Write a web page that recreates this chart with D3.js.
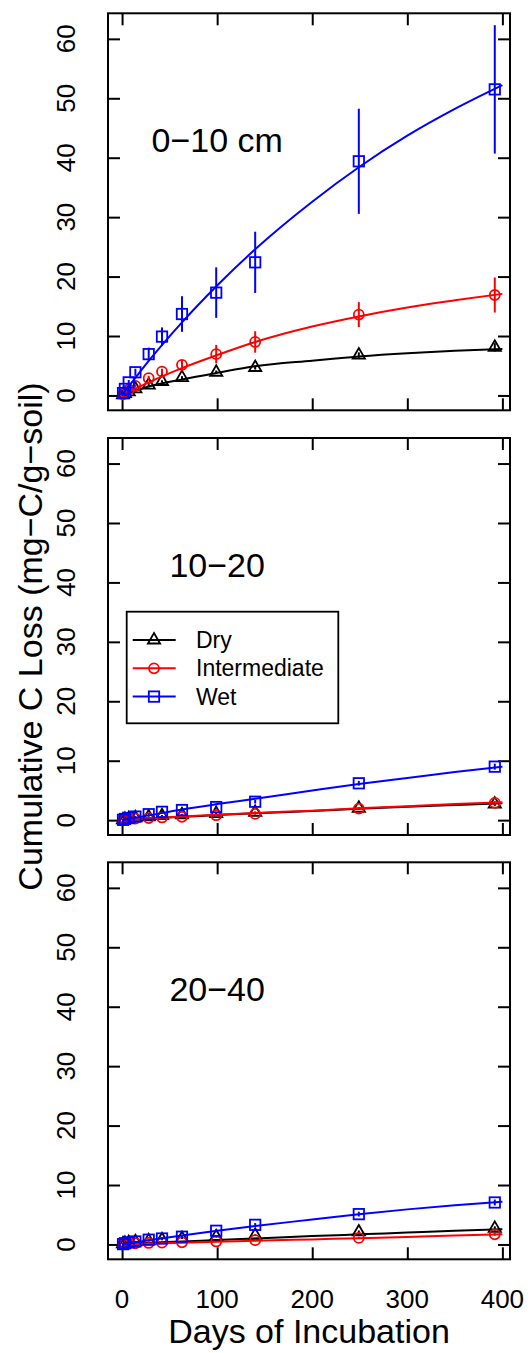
<!DOCTYPE html>
<html>
<head>
<meta charset="utf-8">
<script src="https://cdn.jsdelivr.net/npm/d3@7"></script>
<style>
  body { margin: 0; background: #fff; }
  svg { display: block; font-family: 'Liberation Sans', Arial, Helvetica, sans-serif; }
</style>
</head>
<body>
<svg id="chart" width="532" height="1353"></svg>
<script>
// sampling days of the incubation
const days = [1, 3, 7, 14, 28, 42, 63, 99, 140, 249, 392];

// 0-10 cm
const dry010 = [0.1, 0.3, 0.6, 1.1, 1.75, 2.35, 3.0, 3.9, 4.7, 6.8, 8.1];
const int010 = [0.2, 0.5, 0.96, 1.6, 2.9, 4.0, 5.15, 6.95, 9.0, 13.6, 16.9];
const wet010 = [0.4, 1.1, 2.2, 3.9, 6.95, 9.9, 13.7, 17.3, 22.4, 39.4, 51.5];
const dryErr010 = [0.05, 0.1, 0.1, 0.15, 0.2, 0.2, 0.25, 0.3, 0.35, 0.45, 0.7];
const intErr010 = [0.1, 0.15, 0.2, 0.3, 0.4, 0.5, 0.8, 1.55, 1.8, 2.1, 2.95];
const wetErr010 = [0.2, 0.3, 0.4, 0.6, 1.1, 1.55, 3.0, 4.25, 5.15, 8.85, 10.8];

// 10-20 cm
const dry1020 = [0.05, 0.15, 0.25, 0.4, 0.55, 0.75, 0.9, 1.1, 1.3, 2.0, 2.7];
const int1020 = [0.05, 0.15, 0.2, 0.25, 0.35, 0.45, 0.55, 0.83, 1.05, 1.95, 2.9];
const wet1020 = [0.05, 0.2, 0.35, 0.6, 1.0, 1.4, 1.7, 2.2, 3.1, 6.2, 9.0];
const dryErr1020 = [0.05, 0.05, 0.05, 0.1, 0.1, 0.1, 0.1, 0.15, 0.15, 0.2, 0.3];
const intErr1020 = [0.05, 0.05, 0.05, 0.1, 0.1, 0.1, 0.1, 0.15, 0.15, 0.2, 0.3];
const wetErr1020 = [0.05, 0.05, 0.1, 0.1, 0.15, 0.15, 0.2, 0.25, 0.3, 0.4, 0.5];

// 20-40 cm
const dry2040 = [0.1, 0.2, 0.3, 0.45, 0.6, 0.8, 1.0, 1.3, 1.55, 2.1, 2.7];
const int2040 = [0.05, 0.1, 0.15, 0.2, 0.25, 0.3, 0.35, 0.5, 0.72, 1.1, 1.7];
const wet2040 = [0.05, 0.2, 0.35, 0.5, 0.8, 1.0, 1.3, 2.3, 3.3, 5.1, 7.06];
const dryErr2040 = [0.05, 0.05, 0.05, 0.1, 0.1, 0.1, 0.1, 0.15, 0.15, 0.25, 0.35];
const intErr2040 = [0.05, 0.05, 0.05, 0.05, 0.1, 0.1, 0.1, 0.1, 0.15, 0.2, 0.25];
const wetErr2040 = [0.05, 0.05, 0.1, 0.1, 0.1, 0.15, 0.2, 0.25, 0.3, 0.4, 0.5];

// fitted curves
const fitDays = [0, 28, 63, 100, 140, 200, 249, 300, 350, 400];
const dryFit010 = [0, 1.5, 2.7, 3.8, 4.9, 5.85, 6.55, 7.1, 7.5, 7.8];
const intFit010 = [0, 2.2, 4.6, 6.8, 9.0, 11.6, 13.3, 14.8, 16.0, 17.1];
const wetFit010 = [0, 5.8, 12.3, 18.5, 24.6, 32.6, 38.4, 43.7, 48.2, 52.2];
const dryFit1020 = [0, 0.3, 0.55, 0.85, 1.15, 1.55, 1.9, 2.25, 2.55, 2.85];
const intFit1020 = [0, 0.3, 0.6, 0.9, 1.2, 1.6, 2.0, 2.35, 2.7, 3.0];
const wetFit1020 = [0, 0.8, 1.8, 2.7, 3.6, 5.0, 6.1, 7.1, 8.1, 9.0];
const dryFit2040 = [0.1, 0.3, 0.5, 0.75, 1.0, 1.4, 1.7, 2.0, 2.3, 2.55];
const intFit2040 = [0, 0.15, 0.3, 0.45, 0.62, 0.85, 1.05, 1.25, 1.5, 1.7];
const wetFit2040 = [0, 0.7, 1.5, 2.3, 3.1, 4.2, 5.1, 5.9, 6.6, 7.2];

const treatments = ['Dry', 'Intermediate', 'Wet'];
const colors = ['#000000', '#ff0000', '#0000ff'];
const shapes = ['triangle', 'circle', 'square'];

const depthLabels = ['0\u221210 cm', '10\u221220', '20\u221240'];
const xTicks = [0, 100, 200, 300, 400];
const yTicks = [0, 10, 20, 30, 40, 50, 60];

const panels = [
  { label: depthLabels[0], vals: [dry010, int010, wet010], errs: [dryErr010, intErr010, wetErr010], fits: [dryFit010, intFit010, wetFit010] },
  { label: depthLabels[1], vals: [dry1020, int1020, wet1020], errs: [dryErr1020, intErr1020, wetErr1020], fits: [dryFit1020, intFit1020, wetFit1020], legend: true },
  { label: depthLabels[2], vals: [dry2040, int2040, wet2040], errs: [dryErr2040, intErr2040, wetErr2040], fits: [dryFit2040, intFit2040, wetFit2040], xLabels: true },
];

const panelTops = [13.3, 438, 862.3];
const panelH = 397;
const left = 108, right = 510;
const tick = 12;

const svg = d3.select('#chart');

const x = d3.scaleLinear().domain([-14.8, 408]).range([left, right]);

const marker = (g, shape, color) => {
  if (shape === 'square') {
    g.append('rect').attr('x', -5.2).attr('y', -5.2).attr('width', 10.4).attr('height', 10.4)
      .attr('fill', 'none').attr('stroke', color).attr('stroke-width', 1.8);
  } else if (shape === 'circle') {
    g.append('circle').attr('r', 5).attr('fill', 'none').attr('stroke', color).attr('stroke-width', 1.8);
  } else {
    g.append('path').attr('d', 'M0,-7L6.1,3.5L-6.1,3.5Z')
      .attr('fill', 'none').attr('stroke', color).attr('stroke-width', 1.8);
  }
};

panels.forEach((p, pi) => {
  const top = panelTops[pi];
  const y = d3.scaleLinear().domain([-2.5, 64.3]).range([top + panelH, top]);
  const g = svg.append('g');

  // ticks on all four sides, pointing in
  g.append('g').attr('transform', `translate(${left},0)`)
    .call(d3.axisLeft(y).tickValues(yTicks).tickSize(-tick).tickFormat(''))
    .call(a => a.select('.domain').remove());
  g.append('g').attr('transform', `translate(${right},0)`)
    .call(d3.axisRight(y).tickValues(yTicks).tickSize(-tick).tickFormat(''))
    .call(a => a.select('.domain').remove());
  g.append('g').attr('transform', `translate(0,${top})`)
    .call(d3.axisTop(x).tickValues(xTicks).tickSize(-tick).tickFormat(''))
    .call(a => a.select('.domain').remove());
  g.append('g').attr('transform', `translate(0,${top + panelH})`)
    .call(d3.axisBottom(x).tickValues(xTicks).tickSize(-tick).tickFormat(''))
    .call(a => a.select('.domain').remove());
  g.selectAll('.tick line').attr('stroke', '#000').attr('stroke-width', 2);

  g.append('rect')
    .attr('x', left).attr('y', top).attr('width', right - left).attr('height', panelH)
    .attr('fill', 'none').attr('stroke', '#000').attr('stroke-width', 2);

  // rotated y tick labels
  g.selectAll('.ylab').data(yTicks).join('text')
    .attr('class', 'ylab')
    .attr('transform', d => `translate(75,${y(d)}) rotate(-90)`)
    .attr('text-anchor', 'middle')
    .attr('font-size', 26)
    .text(d => d);

  if (p.xLabels) {
    g.selectAll('.xlab').data(xTicks).join('text')
      .attr('class', 'xlab')
      .attr('x', d => x(d)).attr('y', 1308)
      .attr('text-anchor', 'middle')
      .attr('font-size', 26)
      .text(d => d);
  }

  g.append('text')
    .attr('x', x(100)).attr('y', y(43))
    .attr('dy', '0.36em')
    .attr('text-anchor', 'middle')
    .attr('font-size', 34)
    .text(p.label);

  const line = d3.line().x(d => x(d[0])).y(d => y(d[1])).curve(d3.curveMonotoneX);

  treatments.forEach((t, ti) => {
    const color = colors[ti];
    g.append('path')
      .datum(fitDays.map((d, i) => [d, p.fits[ti][i]]))
      .attr('d', line)
      .attr('fill', 'none').attr('stroke', color).attr('stroke-width', 2);

    g.selectAll(`.err${ti}`).data(days).join('line')
      .attr('class', `err${ti}`)
      .attr('x1', d => x(d)).attr('x2', d => x(d))
      .attr('y1', (d, i) => y(p.vals[ti][i] - p.errs[ti][i]))
      .attr('y2', (d, i) => y(p.vals[ti][i] + p.errs[ti][i]))
      .attr('stroke', color).attr('stroke-width', 2);

    days.forEach((d, i) => {
      const m = g.append('g').attr('transform', `translate(${x(d)},${y(p.vals[ti][i])})`);
      marker(m, shapes[ti], color);
    });
  });

  if (p.legend) {
    const lg = g.append('g');
    lg.append('rect')
      .attr('x', 126.7).attr('y', 611.7).attr('width', 211.6).attr('height', 111.6)
      .attr('fill', '#fff').attr('stroke', '#000').attr('stroke-width', 1.8);
    treatments.forEach((t, ti) => {
      const ry = 640 + ti * 28.3;
      lg.append('line').attr('x1', 132.7).attr('x2', 175.7).attr('y1', ry).attr('y2', ry)
        .attr('stroke', colors[ti]).attr('stroke-width', 2);
      marker(lg.append('g').attr('transform', `translate(154,${ry})`), shapes[ti], colors[ti]);
      lg.append('text').attr('x', 196).attr('y', ry).attr('dy', '0.35em')
        .attr('font-size', 23).text(t);
    });
  }
});

svg.append('text')
  .attr('transform', 'translate(42,636.5) rotate(-90)')
  .attr('text-anchor', 'middle')
  .attr('font-size', 34)
  .text('Cumulative C Loss (mg\u2212C/g\u2212soil)');

svg.append('text')
  .attr('x', (left + right) / 2).attr('y', 1343)
  .attr('text-anchor', 'middle')
  .attr('font-size', 34)
  .text('Days of Incubation');
</script>
</body>
</html>
